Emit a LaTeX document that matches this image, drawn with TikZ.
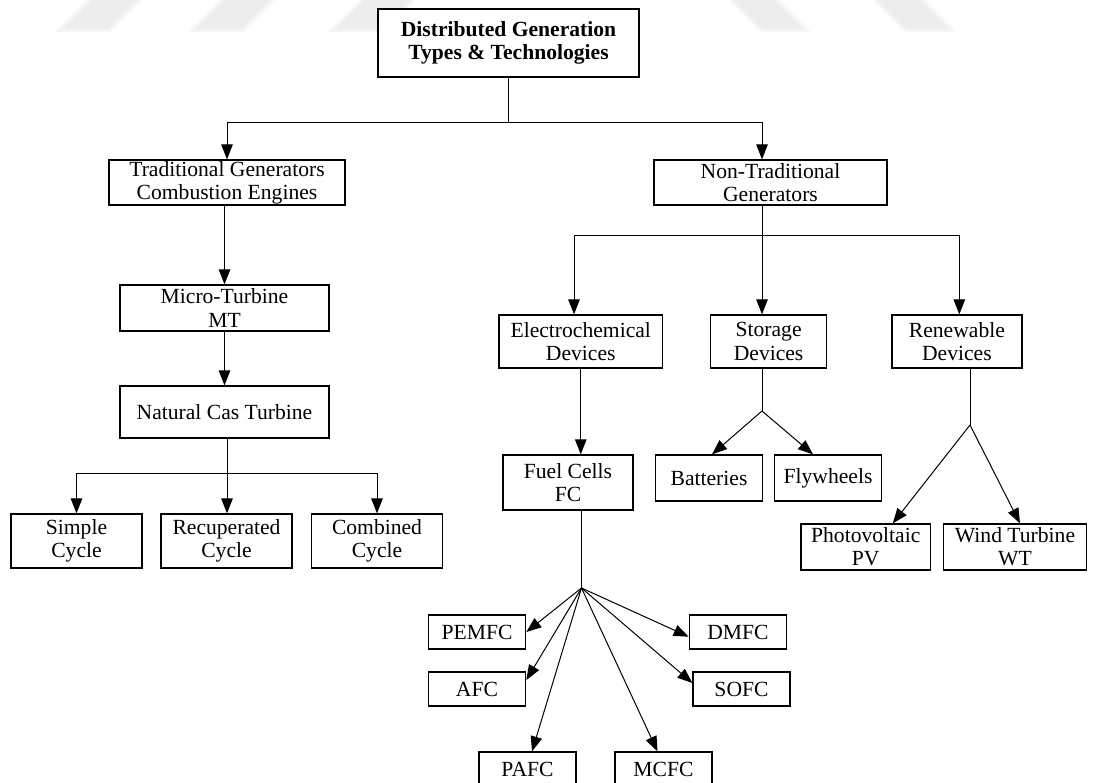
\documentclass[tikz,border=0pt]{standalone}
\usepackage{fontspec}
\setmainfont{Liberation Serif}
\usetikzlibrary{arrows.meta,calc}

\begin{document}
\begin{tikzpicture}[x=1pt,y=-1pt,
  box/.style={draw=black, line width=1.2pt, fill=white, inner sep=0pt,
    align=center, font=\fontsize{21.6}{23.3}\selectfont},
  link/.style={line width=1pt, black},
  arr/.style={link, -{Triangle[length=15pt,width=11.5pt]}},
  band/.style={fill=black!7, draw=black!3.5, line width=3pt, line join=round}]

\useasboundingbox (0,0) rectangle (1094,783);

% faint slanted bands along the top edge
\filldraw[band] (58,31) -- (109,31) -- (145,-5) -- (94,-5) -- cycle;
\filldraw[band] (191,31) -- (242,31) -- (278,-5) -- (227,-5) -- cycle;
\filldraw[band] (331,31) -- (382,31) -- (418,-5) -- (367,-5) -- cycle;
\filldraw[band] (762,31) -- (808,31) -- (772,-5) -- (726,-5) -- cycle;
\filldraw[band] (906,31) -- (954,31) -- (918,-5) -- (870,-5) -- cycle;

% root
\node[box, minimum width=261pt, minimum height=68pt,
  font=\fontsize{21.6}{23.3}\selectfont\bfseries] (dg) at (508.5,43)
  {Distributed Generation\\Types \& Technologies};

% first level
\node[box, minimum width=236pt, minimum height=45pt] (trad) at (227,182.5)
  {Traditional Generators\\Combustion Engines};
\node[box, minimum width=233pt, minimum height=45pt] (ntrad) at (770.5,182.5)
  {Non-Traditional\\Generators};

% traditional branch
\node[box, minimum width=209pt, minimum height=46pt] (mt) at (224.5,308)
  {Micro-Turbine\\MT};
\node[box, minimum width=209pt, minimum height=52pt] (nct) at (224.5,412)
  {Natural Cas Turbine};
\node[box, minimum width=131pt, minimum height=54pt] (simple) at (76.5,541)
  {Simple\\Cycle};
\node[box, minimum width=131pt, minimum height=54pt] (recup) at (226.5,541)
  {Recuperated\\Cycle};
\node[box, minimum width=131pt, minimum height=54pt] (comb) at (377,541)
  {Combined\\Cycle};

% non-traditional branch
\node[box, minimum width=163.5pt, minimum height=53pt] (elec) at (580.75,341.5)
  {Electrochemical\\Devices};
\node[box, minimum width=116pt, minimum height=53pt] (stor) at (768.6,341.5)
  {Storage\\Devices};
\node[box, minimum width=130pt, minimum height=53pt] (renew) at (956.9,341.5)
  {Renewable\\Devices};

\node[box, minimum width=130pt, minimum height=55pt] (fc) at (568,482.5)
  {Fuel Cells\\FC};
\node[box, minimum width=107pt, minimum height=46pt] (batt) at (709,478)
  {Batteries};
\node[box, minimum width=107pt, minimum height=46pt] (fly) at (828,478)
  {Flywheels};
\node[box, minimum width=129.5pt, minimum height=46pt] (pv) at (865.75,547)
  {Photovoltaic\\PV};
\node[box, minimum width=143pt, minimum height=46pt] (wt) at (1015,547)
  {Wind Turbine\\WT};

% fuel cell types
\node[box, minimum width=97.5pt, minimum height=34pt] (pemfc) at (477,632) {PEMFC};
\node[box, minimum width=97.5pt, minimum height=34pt] (afc) at (477,689) {AFC};
\node[box, minimum width=97pt, minimum height=34pt] (pafc) at (527.5,769) {PAFC};
\node[box, minimum width=97pt, minimum height=34pt] (mcfc) at (663.5,769) {MCFC};
\node[box, minimum width=97pt, minimum height=34pt] (sofc) at (741.5,689) {SOFC};
\node[box, minimum width=97.5pt, minimum height=34pt] (dmfc) at (738,632) {DMFC};

% junction points
\coordinate (j0) at (508.5,123);
\coordinate (j1) at (227,473);
\coordinate (j2) at (762,236);
\coordinate (j3) at (762,411);
\coordinate (j4) at (970,425);
\coordinate (hub) at (581.5,588);

% root to first level
\draw[link] (dg.south) -- (j0);
\draw[arr] (j0) -| (trad.north);
\draw[arr] (j0) -| ([xshift=-8.5pt]ntrad.north);

% traditional chain
\draw[arr] (trad.south -| mt.north) -- (mt.north);
\draw[arr] (mt.south) -- (nct.north);
\draw[link] (nct.south -| j1) -- (j1);
\draw[arr] (j1) -| (simple.north);
\draw[arr] (j1) -- (j1 |- recup.north);
\draw[arr] (j1) -| (comb.north);

% non-traditional fan-out
\draw[link] (ntrad.south -| j2) -- (j2);
\draw[arr] (j2) -| ([xshift=-6.75pt]elec.north);
\draw[arr] (j2) -- (j2 |- stor.north);
\draw[arr] (j2) -| ([xshift=2.4pt]renew.north);

% electrochemical to fuel cells and its types
\draw[arr] (elec.south) -- (elec.south |- fc.north);
\draw[link] (fc.south -| hub) -- (hub);
\draw[arr] (hub) -- (pemfc.east);
\draw[arr] (hub) -- ([yshift=9pt]afc.east);
\draw[arr] (hub) -- ([xshift=4.5pt]pafc.north);
\draw[arr] (hub) -- ([xshift=-6pt]mcfc.north);
\draw[arr] (hub) -- ([yshift=6pt]sofc.west);
\draw[arr] (hub) -- ([yshift=-4.7pt]dmfc.west);

% storage devices
\draw[link] (stor.south -| j3) -- (j3);
\draw[arr] (j3) -- ([xshift=3pt]batt.north);
\draw[arr] (j3) -- ([xshift=-15pt]fly.north);

% renewable devices
\draw[link] (renew.south -| j4) -- (j4);
\draw[arr] (j4) -- ([xshift=27pt]pv.north);
\draw[arr] (j4) -- ([xshift=5pt]wt.north);

\end{tikzpicture}
\end{document}
